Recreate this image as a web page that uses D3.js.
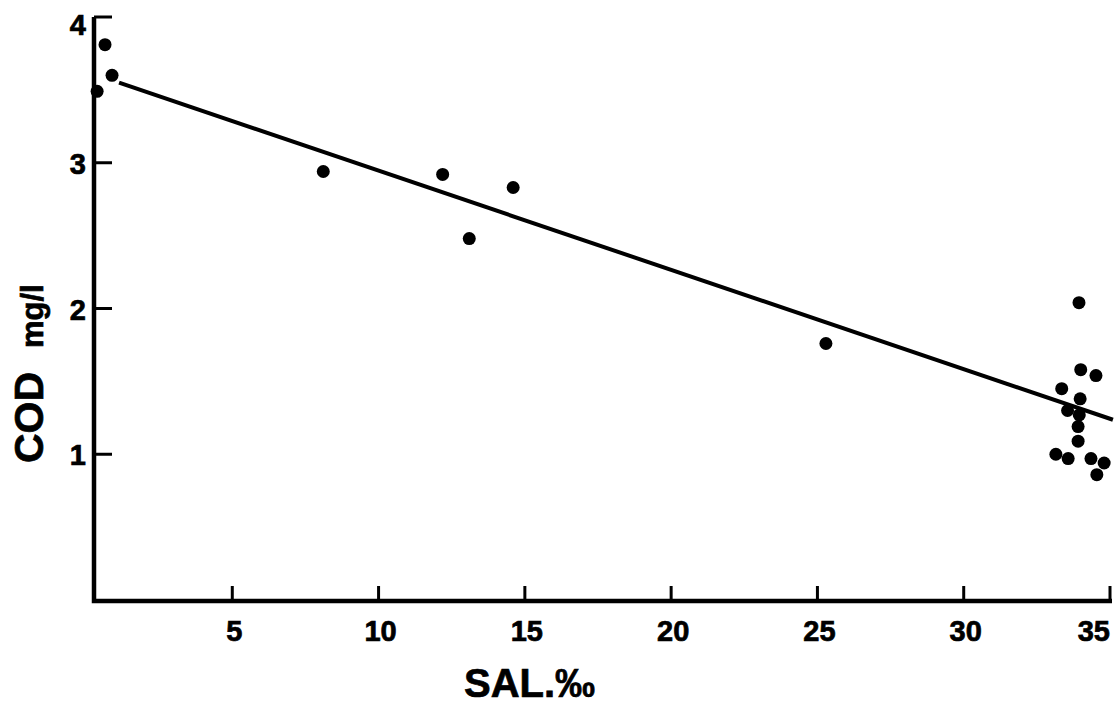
<!DOCTYPE html>
<html>
<head>
<meta charset="utf-8">
<script src="https://cdn.jsdelivr.net/npm/d3@7"></script>
<style>
  html, body { margin: 0; padding: 0; background: #fff; }
  svg { display: block; }
  text { font-family: "Liberation Sans", Arial, Helvetica, sans-serif; font-weight: bold; fill: #000; stroke: #000; stroke-width: 0.7px; }
</style>
</head>
<body>
<svg id="chart" width="1115" height="706"></svg>
<script>
// ---- data ----
const salinity = [0.65, 0.89, 0.38, 8.11, 12.19, 13.10, 14.60, 25.29,
  33.94, 34.00, 34.52, 33.35, 33.98, 33.55, 33.95, 33.91, 33.91, 33.15, 33.57, 34.35, 34.80, 34.55];
const cod = [3.81, 3.60, 3.49, 2.94, 2.92, 2.48, 2.83, 1.76,
  2.04, 1.58, 1.54, 1.45, 1.38, 1.30, 1.27, 1.19, 1.09, 1.00, 0.97, 0.97, 0.94, 0.86];
const xTicks = [5, 10, 15, 20, 25, 30, 35];
const yTicks = [1, 2, 3, 4];
const fitIntercept = 3.627;
const fitSlope = -0.0681;
const fitRange = [1.13, 35.10];
const xLabel = "SAL.‰";
const yLabelMain = "COD";
const yLabelUnit = "mg/l";

// ---- layout ----
const svg = d3.select("#chart");
const x = d3.scaleLinear().domain([0, 35]).range([86, 1110]);
const y = d3.scaleLinear().domain([0, 4]).range([600, 17]);
const axisX = 94;      // pixel position of the vertical axis
const axisY = 601;     // pixel position of the horizontal axis

// axes lines
svg.append("path")
  .attr("d", `M${axisX},${y(4)} V${axisY} H${x(35) + 2}`)
  .attr("fill", "none").attr("stroke", "#000").attr("stroke-width", 4.5)
  .attr("stroke-linejoin", "miter");

// x ticks (pointing up, inside)
svg.selectAll(".xt").data(xTicks).enter().append("line")
  .attr("x1", d => x(d)).attr("x2", d => x(d))
  .attr("y1", axisY).attr("y2", axisY - 15)
  .attr("stroke", "#000").attr("stroke-width", 3);
svg.selectAll(".xl").data(xTicks).enter().append("text")
  .attr("x", (d, i) => i === xTicks.length - 1 ? x(d) : x(d) + 2)
  .attr("y", 641)
  .attr("text-anchor", (d, i) => i === xTicks.length - 1 ? "end" : "middle")
  .attr("font-size", 29)
  .text(d => d);

// y ticks (pointing right, inside)
svg.selectAll(".yt").data(yTicks).enter().append("line")
  .attr("x1", axisX).attr("x2", axisX + 18)
  .attr("y1", d => y(d)).attr("y2", d => y(d))
  .attr("stroke", "#000").attr("stroke-width", 3);
svg.selectAll(".yl").data(yTicks).enter().append("text")
  .attr("x", 86)
  .attr("y", d => Math.max(y(d) + 11, 35))
  .attr("text-anchor", "end")
  .attr("font-size", 29)
  .text(d => d);

// axis titles
svg.append("text")
  .attr("transform", "translate(43,463) rotate(-90)")
  .attr("text-anchor", "start")
  .attr("font-size", 41)
  .text(yLabelMain);
svg.append("text")
  .attr("transform", "translate(43,348) rotate(-90)")
  .attr("text-anchor", "start")
  .attr("font-size", 31)
  .text(yLabelUnit);
svg.append("text")
  .attr("x", 464).attr("y", 697)
  .attr("font-size", 40)
  .text(xLabel);

// regression line
svg.append("line")
  .attr("x1", x(fitRange[0])).attr("y1", y(fitIntercept + fitSlope * fitRange[0]))
  .attr("x2", x(fitRange[1])).attr("y2", y(fitIntercept + fitSlope * fitRange[1]))
  .attr("stroke", "#000").attr("stroke-width", 4);

// points
svg.selectAll(".pt").data(salinity.map((s, i) => [s, cod[i]])).enter().append("circle")
  .attr("cx", d => x(d[0])).attr("cy", d => y(d[1]))
  .attr("r", 6.5).attr("fill", "#000");
</script>
</body>
</html>
